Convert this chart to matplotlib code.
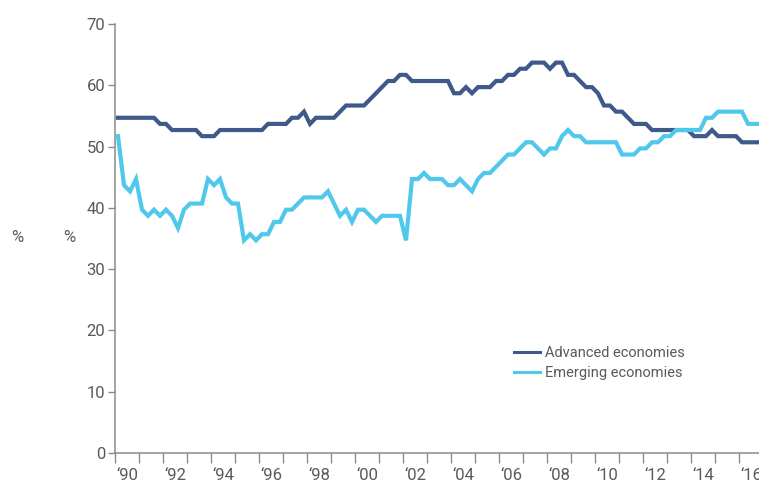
import numpy as np
import matplotlib
matplotlib.use("Agg")
import matplotlib.pyplot as plt
from matplotlib import font_manager as fm
from matplotlib.lines import Line2D

# ---------------- data ----------------
years = list(range(1990, 2017))
quarters = [(y, q) for y in years for q in range(1, 5)]

advanced = [
    54.7, 54.7, 54.7, 54.7, 54.7, 54.7, 54.7, 53.7, 53.7, 52.7,
    52.7, 52.7, 52.7, 52.7, 51.7, 51.7, 51.7, 52.7, 52.7, 52.7,
    52.7, 52.7, 52.7, 52.7, 52.7, 53.7, 53.7, 53.7, 53.7, 54.7,
    54.7, 55.7, 53.7, 54.7, 54.7, 54.7, 54.7, 55.7, 56.7, 56.7,
    56.7, 56.7, 57.7, 58.7, 59.7, 60.7, 60.7, 61.7, 61.7, 60.7,
    60.7, 60.7, 60.7, 60.7, 60.7, 60.7, 58.7, 58.7, 59.7, 58.7,
    59.7, 59.7, 59.7, 60.7, 60.7, 61.7, 61.7, 62.7, 62.7, 63.7,
    63.7, 63.7, 62.7, 63.7, 63.7, 61.7, 61.7, 60.7, 59.7, 59.7,
    58.7, 56.7, 56.7, 55.7, 55.7, 54.7, 53.7, 53.7, 53.7, 52.7,
    52.7, 52.7, 52.7, 52.7, 52.7, 52.7, 51.7, 51.7, 51.7, 52.7,
    51.7, 51.7, 51.7, 51.7, 50.7, 50.7, 50.7, 50.7,
]

emerging = [
    51.7, 43.7, 42.7, 44.7, 39.7, 38.7, 39.7, 38.7, 39.7, 38.7,
    36.7, 39.7, 40.7, 40.7, 40.7, 44.7, 43.7, 44.7, 41.7, 40.7,
    40.7, 34.7, 35.7, 34.7, 35.7, 35.7, 37.7, 37.7, 39.7, 39.7,
    40.7, 41.7, 41.7, 41.7, 41.7, 42.7, 40.7, 38.7, 39.7, 37.7,
    39.7, 39.7, 38.7, 37.7, 38.7, 38.7, 38.7, 38.7, 34.7, 44.7,
    44.7, 45.7, 44.7, 44.7, 44.7, 43.7, 43.7, 44.7, 43.7, 42.7,
    44.7, 45.7, 45.7, 46.7, 47.7, 48.7, 48.7, 49.7, 50.7, 50.7,
    49.7, 48.7, 49.7, 49.7, 51.7, 52.7, 51.7, 51.7, 50.7, 50.7,
    50.7, 50.7, 50.7, 50.7, 48.7, 48.7, 48.7, 49.7, 49.7, 50.7,
    50.7, 51.7, 51.7, 52.7, 52.7, 52.7, 52.7, 52.7, 54.7, 54.7,
    55.7, 55.7, 55.7, 55.7, 55.7, 53.7, 53.7, 53.7,
]

series_names = ["Advanced economies", "Emerging economies"]
label_years = list(range(1990, 2017, 2))
tick_labels = ["\u2018" + str(y)[2:] for y in label_years]
y_ticks = [0, 10, 20, 30, 40, 50, 60, 70]

# ---------------- style ----------------
avail = {f.name for f in fm.fontManager.ttflist}
for fam in ["Roboto", "Liberation Sans", "DejaVu Sans"]:
    if fam in avail:
        FONT = fam
        break
plt.rcParams["font.family"] = [FONT, "DejaVu Sans"]

TEXT = "#5a5a5a"
AXC = "#8a8a8a"
C_ADV = "#3f5a8a"
C_EME = "#4fc8ec"

W, H = 759, 484
fig = plt.figure(figsize=(W / 100, H / 100), dpi=100)
ax = fig.add_axes([115 / W, 31 / H, 644 / W, 429 / H])

t = [y + (q - 1) / 4 + 0.125 for (y, q) in quarters]
ax.plot(t, advanced, color=C_ADV, lw=3.0, solid_joinstyle="miter", zorder=3)
ax.plot(t, emerging, color=C_EME, lw=3.0, solid_joinstyle="miter", zorder=3)

ax.set_xlim(1990, 1990 + 644 / 24)
ax.set_ylim(0, 70)

for s in ["top", "right"]:
    ax.spines[s].set_visible(False)
for s in ["left", "bottom"]:
    ax.spines[s].set_color(AXC)
    ax.spines[s].set_linewidth(1.1)

ax.set_yticks(y_ticks)
ax.set_yticklabels([str(v) for v in y_ticks])
ax.tick_params(axis="y", which="major", length=5, width=1.0, color=AXC,
               labelsize=12, labelcolor=TEXT, pad=2)

ax.set_xticks(years)
ax.set_xticklabels([])
ax.set_xticks([y + 0.5 for y in label_years], minor=True)
ax.set_xticklabels(tick_labels, minor=True)
ax.tick_params(axis="x", which="major", length=7.5, width=1.0, color=AXC)
ax.tick_params(axis="x", which="minor", length=0, labelsize=12,
               labelcolor=TEXT, pad=11)

fig.text(17 / W, 1 - 238 / H, "%", fontsize=12, color=TEXT, ha="center", va="center")
fig.text(69 / W, 1 - 238 / H, "%", fontsize=12, color=TEXT, ha="center", va="center")

handles = [Line2D([], [], color=C_ADV, lw=2.2), Line2D([], [], color=C_EME, lw=2.2)]
leg = fig.legend(handles, series_names, loc="upper left",
                 bbox_to_anchor=(514 / W, 1 - 346 / H), bbox_transform=fig.transFigure,
                 frameon=False, fontsize=10.5, handlelength=1.75, handletextpad=0.4,
                 borderpad=0, borderaxespad=0, labelspacing=0.4)
for txt in leg.get_texts():
    txt.set_color(TEXT)

fig.savefig("out.png", dpi=100)
